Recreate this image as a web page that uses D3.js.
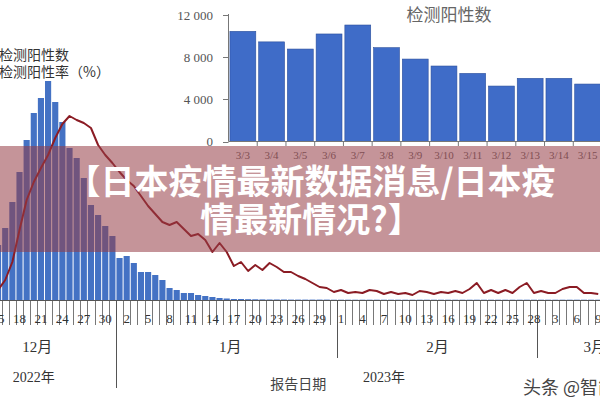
<!DOCTYPE html>
<html lang="zh">
<head>
<meta charset="utf-8">
<title>日本疫情最新数据</title>
<script src="https://d3js.org/d3.v7.min.js"></script>
<style>
body { margin: 0; background: #fff; }
svg { display: block; }
</style>
</head>
<body>
<div id="chart"></div>
<script>
// daily reports, 2022-12-15 .. 2023-03-09
var firstDay = new Date(2022, 11, 15),
    lastDay = new Date(2023, 2, 10);

// positive tests per day (thousands)
var positives = [55, 72, 98, 128, 160, 187, 202, 219, 198, 178,
  152, 142, 122, 95, 85, 74, 64, 42, 44, 37,
  28, 28, 25, 20, 12, 10, 7, 7, 5, 4,
  3, 2, 1.5, 1, 1, 0.8, 0.7, 0.6, 0.5, 0.5,
  0.5, 0.4, 0.4, 0.4, 0.4, 0.4, 0.4, 0.3, 0.3, 0.3,
  0.3, 0.3, 0.3, 0.3, 0.3, 0.3, 0.3, 0.3, 0.3, 0.3,
  0.3, 0.3, 0.3, 0.3, 0.3, 0.3, 0.3, 0.3, 0.3, 0.3,
  0.3, 0.3, 0.3, 0.3, 0.3, 0.3, 0.3, 0.3, 0.3, 0.3,
  0.3, 0.3, 0.3, 0.3, 0.3];

// positivity rate (%)
var positiveRate = [4.0, 8.0, 15.2, 28.0, 40.0, 47.2, 52.8, 58.0, 64.8, 70.4,
  73.6, 72.0, 70.8, 68.8, 62.0, 58.0, 54.8, 51.2, 48.0, 45.6,
  41.6, 37.6, 34.4, 31.2, 30.0, 31.2, 28.4, 25.6, 26.4, 24.0,
  19.2, 22.8, 19.2, 13.6, 15.2, 11.6, 14.0, 12.0, 14.8, 13.2,
  11.2, 11.2, 9.6, 8.4, 6.8, 5.2, 4.8, 3.2, 4.0, 2.8,
  3.2, 2.8, 4.0, 3.6, 2.4, 3.2, 2.4, 2.8, 2.0, 3.6,
  3.2, 2.4, 3.2, 2.8, 3.6, 2.8, 4.4, 6.8, 2.8, 4.0,
  2.8, 4.0, 2.8, 5.2, 6.8, 2.8, 3.6, 2.8, 2.8, 4.4,
  5.2, 5.2, 2.8, 2.8, 2.4];

// inset: 3/3 .. 3/15
var insetDays = ["3/3", "3/4", "3/5", "3/6", "3/7", "3/8", "3/9", "3/10", "3/11", "3/12", "3/13", "3/14", "3/15"];
var insetPositives = [10450, 9450, 8770, 10200, 11050, 8900, 7820, 7160, 6460, 5260, 5990, 5990, 5450];
var insetTicks = [0, 4000, 8000, 12000];

var monthLabels = [["12月", new Date(2022, 11, 20)], ["1月", new Date(2023, 0, 16)],
                   ["2月", new Date(2023, 1, 14)], ["3月", new Date(2023, 2, 8)]];
var yearLabels = [["2022年", new Date(2022, 11, 20)], ["2023年", new Date(2023, 1, 7)]];
var monthStarts = [new Date(2023, 0, 1), new Date(2023, 1, 1), new Date(2023, 2, 1)];

var width = 600, height = 400;
var serif = "'Liberation Serif', 'Noto Sans CJK SC', serif";
var sans = "'Noto Sans CJK SC', 'Noto Sans', sans-serif";

var svg = d3.select("#chart")
  .append("svg")
    .attr("width", width)
    .attr("height", height);

var days = d3.timeDay.range(firstDay, lastDay);
var key = d3.timeFormat("%Y-%m-%d");

// main chart scales
var x = d3.scaleBand()
  .domain(days.map(key))
  .range([-5.5, 601.8]);
var y = d3.scaleLinear().domain([0, 250]).range([300, 50]);
var yRate = d3.scaleLinear().domain([0, 80]).range([300, 100]);
var bw = x.bandwidth();
function cx(d) { return x(key(d)) + bw / 2; }

// bars
svg.append("g").selectAll("rect")
  .data(days)
  .enter()
  .append("rect")
    .attr("x", function(d) { return x(key(d)) + 0.5; })
    .attr("width", bw - 1)
    .attr("y", function(d, i) { return y(positives[i]); })
    .attr("height", function(d, i) { return y(0) - y(positives[i]); })
    .attr("fill", "#4472c4");

// rate line
var line = d3.line()
  .x(function(d) { return cx(d); })
  .y(function(d, i) { return yRate(positiveRate[i]); });
svg.append("path")
  .datum(days)
  .attr("d", line)
  .attr("fill", "none")
  .attr("stroke", "#8b1c24")
  .attr("stroke-width", 2)
  .attr("stroke-linejoin", "round");

// x axis: a tick between every day, labels every 3 days
var axis = svg.append("g").attr("stroke", "#555");
axis.append("line")
  .attr("x1", 0).attr("x2", width)
  .attr("y1", 300.5).attr("y2", 300.5);
axis.selectAll(".tick")
  .data(days.slice(1))
  .enter()
  .append("line")
    .attr("x1", function(d) { return Math.round(x(key(d))) + 0.5; })
    .attr("x2", function(d) { return Math.round(x(key(d))) + 0.5; })
    .attr("y1", 301).attr("y2", 325)
    .attr("stroke-width", 0.8);
axis.selectAll(".sep")
  .data(monthStarts)
  .enter()
  .append("line")
    .attr("x1", function(d) { return Math.round(x(key(d))) + 0.5; })
    .attr("x2", function(d) { return Math.round(x(key(d))) + 0.5; })
    .attr("y1", 301)
    .attr("y2", function(d) { return d.getMonth() == 0 ? 388 : 358; });

svg.append("g").selectAll("text")
  .data(days.filter(function(d, i) { return i % 3 == 0; }))
  .enter()
  .append("text")
    .attr("x", cx)
    .attr("y", 323)
    .attr("text-anchor", "middle")
    .attr("font-family", serif)
    .attr("font-size", 13)
    .attr("fill", "#333")
    .text(function(d) { return d.getDate(); });

svg.append("g").selectAll("text")
  .data(monthLabels)
  .enter()
  .append("text")
    .attr("x", function(d) { return x(key(d[1])) + bw; })
    .attr("y", 352)
    .attr("text-anchor", "middle")
    .attr("font-family", serif)
    .attr("font-size", 15)
    .attr("fill", "#333")
    .text(function(d) { return d[0]; });

svg.append("g").selectAll("text")
  .data(yearLabels)
  .enter()
  .append("text")
    .attr("x", function(d) { return cx(d[1]); })
    .attr("y", 382)
    .attr("text-anchor", "middle")
    .attr("font-family", serif)
    .attr("font-size", 14)
    .attr("fill", "#333")
    .text(function(d) { return d[0]; });

svg.append("text")
  .attr("x", cx(new Date(2023, 0, 26)))
  .attr("y", 389)
  .attr("text-anchor", "middle")
  .attr("font-family", sans)
  .attr("font-size", 14)
  .attr("fill", "#444")
  .text("报告日期");

// legend (cut at the left edge)
svg.append("text")
  .attr("x", -1).attr("y", 60)
  .attr("font-family", sans).attr("font-size", 14).attr("fill", "#333")
  .text("检测阳性数");
svg.append("text")
  .attr("x", -1).attr("y", 77)
  .attr("font-family", sans).attr("font-size", 14).attr("fill", "#333")
  .text("检测阳性率（%）");

// inset chart
var xi = d3.scaleBand()
  .domain(insetDays)
  .range([228.5, 602])
  .paddingInner(0.1)
  .paddingOuter(0.05);
var yi = d3.scaleLinear().domain([0, 12000]).range([141.5, 15]);
var step = xi.step();

svg.append("g").selectAll("rect")
  .data(insetDays)
  .enter()
  .append("rect")
    .attr("x", function(d) { return xi(d); })
    .attr("width", xi.bandwidth())
    .attr("y", function(d, i) { return yi(insetPositives[i]); })
    .attr("height", function(d, i) { return yi(0) - yi(insetPositives[i]); })
    .attr("fill", "#3f6cc8")
    .attr("stroke", "#2b4f9c")
    .attr("stroke-width", 0.6);

var inAxis = svg.append("g").attr("stroke", "#777");
inAxis.append("line")
  .attr("x1", 228.5).attr("x2", 228.5)
  .attr("y1", 14).attr("y2", 141.5);
inAxis.append("line")
  .attr("x1", 228.5).attr("x2", width)
  .attr("y1", 141.5).attr("y2", 141.5);
inAxis.selectAll(".yt")
  .data(insetTicks)
  .enter()
  .append("line")
    .attr("x1", 223).attr("x2", 228.5)
    .attr("y1", function(d) { return Math.round(yi(d)) + 0.5; })
    .attr("y2", function(d) { return Math.round(yi(d)) + 0.5; });
inAxis.selectAll(".xt")
  .data(insetDays)
  .enter()
  .append("line")
    .attr("x1", function(d) { return xi(d) + xi.bandwidth() + step * 0.05; })
    .attr("x2", function(d) { return xi(d) + xi.bandwidth() + step * 0.05; })
    .attr("y1", 141.5).attr("y2", 146);

var fmt = function(v) { return d3.format(",")(v).replace(",", " "); };
svg.append("g").selectAll("text")
  .data(insetTicks)
  .enter()
  .append("text")
    .attr("x", 213)
    .attr("y", function(d) { return yi(d); })
    .attr("dy", "0.35em")
    .attr("text-anchor", "end")
    .attr("font-family", serif)
    .attr("font-size", 13)
    .attr("fill", "#555")
    .text(fmt);

svg.append("g").selectAll("text")
  .data(insetDays)
  .enter()
  .append("text")
    .attr("x", function(d) { return xi(d) + xi.bandwidth() / 2; })
    .attr("y", 159)
    .attr("text-anchor", "middle")
    .attr("font-family", serif)
    .attr("font-size", 11)
    .attr("fill", "#666")
    .text(function(d) { return d; });

svg.append("text")
  .attr("x", 449).attr("y", 15)
  .attr("dy", "0.35em")
  .attr("text-anchor", "middle")
  .attr("font-family", sans)
  .attr("font-size", 17)
  .attr("fill", "#666")
  .text("检测阳性数");

// title banner
svg.append("rect")
  .attr("x", 0).attr("y", 146)
  .attr("width", width).attr("height", 106)
  .attr("fill", "rgba(150, 60, 70, 0.55)");

var title = svg.append("g")
  .attr("font-family", sans)
  .attr("font-weight", 700)
  .attr("font-size", 34)
  .attr("fill", "#fff")
  .attr("text-anchor", "middle");
title.append("text")
  .attr("x", 311).attr("y", 182).attr("dy", "0.35em")
  .text("【日本疫情最新数据消息/日本疫");
title.append("text")
  .attr("x", 311).attr("y", 220).attr("dy", "0.35em")
  .text("情最新情况?】");

// watermark
svg.append("text")
  .attr("x", 523).attr("y", 394)
  .attr("font-family", sans)
  .attr("font-size", 18)
  .attr("fill", "#444")
  .text("头条 @智能");
</script>
</body>
</html>
